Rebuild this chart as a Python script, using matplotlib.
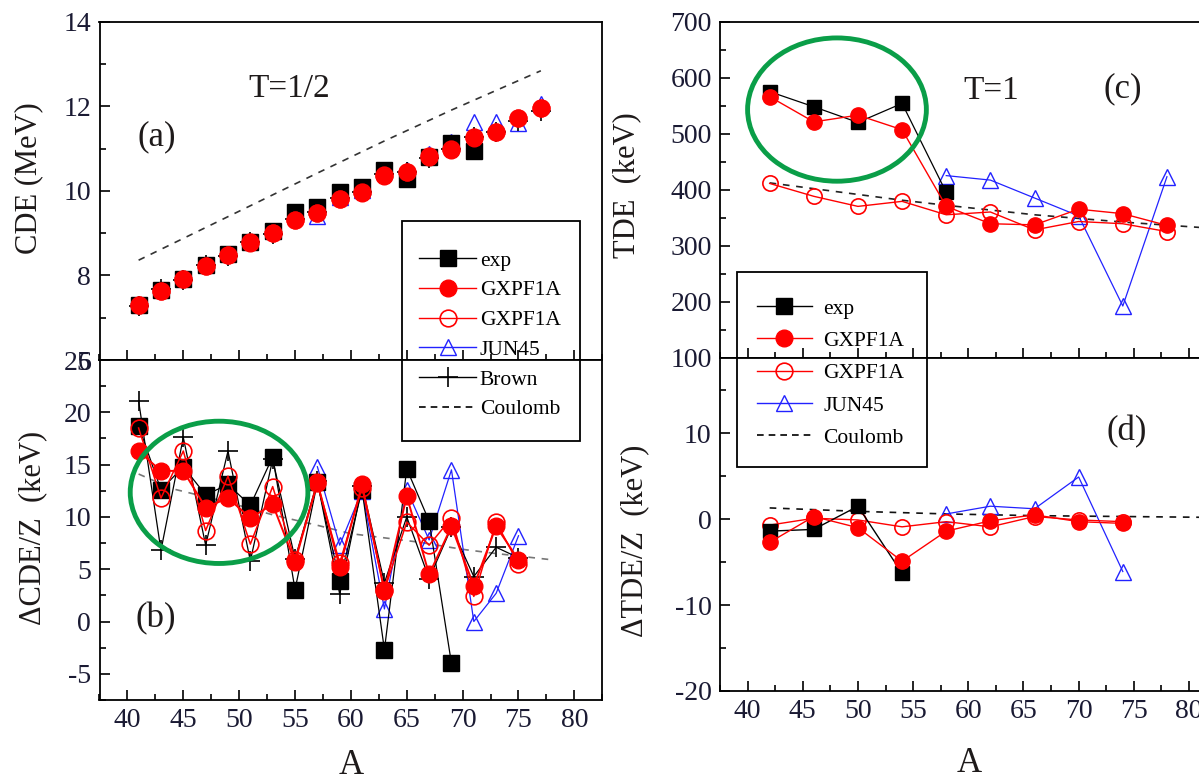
import matplotlib
matplotlib.use('Agg')
import matplotlib.pyplot as plt
from matplotlib.patches import Ellipse, Rectangle
from matplotlib.lines import Line2D
from matplotlib.ticker import MultipleLocator

plt.rcParams['font.family'] = ['Liberation Serif', 'DejaVu Serif']
plt.rcParams['axes.unicode_minus'] = False

# ---------------- data ----------------
# panel (a) CDE (MeV), T=1/2
a_A = [41, 43, 45, 47, 49, 51, 53, 55, 57, 59, 61, 63, 65, 67, 69, 71, 73, 75, 77]
a_exp_A = [41, 43, 45, 47, 49, 51, 53, 55, 57, 59, 61, 63, 65, 67, 69, 71]
a_exp = [7.30, 7.65, 7.92, 8.25, 8.50, 8.80, 9.05, 9.50, 9.61, 9.98, 10.08, 10.49, 10.28, 10.80, 11.14, 10.95]
a_gx = [7.30, 7.62, 7.91, 8.22, 8.48, 8.77, 9.00, 9.31, 9.47, 9.80, 9.96, 10.36, 10.44, 10.81, 10.97, 11.26, 11.38, 11.72, 11.95]
a_gx_open = [7.31, 7.63, 7.92, 8.23, 8.49, 8.78, 9.01, 9.32, 9.48, 9.81, 9.97, 10.37, 10.45, 10.82, 10.98, 11.27, 11.39, 11.73, 11.96]
a_jun_A = [57, 59, 61, 63, 65, 67, 69, 71, 73, 75, 77]
a_jun = [9.40, 9.85, 10.02, 10.48, 10.50, 10.86, 11.15, 11.62, 11.62, 11.60, 12.05]
a_brown = [7.28, 7.68, 7.88, 8.25, 8.47, 8.80, 8.98, 9.33, 9.50, 9.82, 9.98, 10.40, 10.45, 10.78, 11.00, 11.28, 11.38, 11.65, 11.88]
a_coul_A = [41, 49, 57, 63, 69, 77]
a_coul = [8.36, 9.39, 10.42, 11.18, 11.91, 12.84]

# panel (b) dCDE/Z (keV)
b_exp_A = [41, 43, 45, 47, 49, 51, 53, 55, 57, 59, 61, 63, 65, 67, 69]
b_exp = [18.7, 12.6, 14.8, 12.1, 13.1, 11.1, 15.75, 3.06, 13.3, 3.9, 12.6, -2.7, 14.6, 9.6, -4.0]
b_A = [41, 43, 45, 47, 49, 51, 53, 55, 57, 59, 61, 63, 65, 67, 69, 71, 73, 75]
b_gx = [16.3, 14.4, 14.4, 10.9, 11.8, 9.9, 11.2, 5.7, 13.3, 5.2, 13.1, 2.9, 12.0, 4.5, 9.1, 3.4, 9.1, 5.9]
b_gx_open = [18.5, 11.8, 16.3, 8.7, 13.9, 7.4, 12.9, 5.9, 13.2, 5.6, 12.8, 3.0, 9.5, 7.3, 9.9, 2.4, 9.5, 5.5]
b_jun_A = [57, 59, 61, 63, 65, 67, 69, 71, 73, 75]
b_jun = [14.8, 7.3, 12.5, 1.2, 12.6, 7.8, 14.5, 0.0, 2.7, 8.2]
b_brown = [21.1, 6.8, 17.6, 7.3, 16.3, 5.8, 15.5, 6.0, 13.4, 2.6, 13.0, 3.7, 10.0, 4.1, 9.0, 4.3, 7.1, 6.1]
b_coul_A = [41, 44, 49, 53, 57, 60, 63, 66, 70, 73, 78]
b_coul = [14.1, 12.7, 11.4, 10.2, 9.2, 8.4, 8.0, 7.6, 6.9, 6.5, 5.9]

# panel (c) TDE (keV), T=1
c_A = [42, 46, 50, 54, 58, 62, 66, 70, 74, 78]
c_exp_A = [42, 46, 50, 54, 58]
c_exp = [575, 548, 520, 554, 395]
c_gx = [566, 521, 533, 507, 370, 339, 337, 365, 357, 336]
c_gx_open = [411, 388, 370, 379, 355, 360, 328, 343, 339, 325]
c_jun_A = [58, 62, 66, 70, 74, 78]
c_jun = [425, 417, 385, 353, 192, 423]
c_coul_A = [42, 54, 58, 66, 74, 82]
c_coul = [412, 381, 372, 355, 342, 331]

# panel (d) dTDE/Z (keV)
d_A = [42, 46, 50, 54, 58, 62, 66, 70, 74]
d_exp_A = [42, 46, 50, 54]
d_exp = [-1.4, -1.2, 1.5, -6.3]
d_gx = [-2.7, 0.3, -1.0, -4.9, -1.4, -0.2, 0.5, -0.3, -0.5]
d_gx_open = [-0.7, 0.1, -0.1, -0.9, -0.3, -0.9, 0.3, -0.1, -0.3]
d_jun_A = [58, 62, 66, 70, 74]
d_jun = [0.6, 1.5, 1.2, 4.9, -6.1]
d_coul_A = [42, 50, 58, 66, 74, 82]
d_coul = [1.3, 0.9, 0.6, 0.4, 0.3, 0.2]

legend_left = ['exp', 'GXPF1A', 'GXPF1A', 'JUN45', 'Brown', 'Coulomb']
legend_right = ['exp', 'GXPF1A', 'GXPF1A', 'JUN45', 'Coulomb']

# ---------------- figure ----------------
W, H = 1199, 779
fig = plt.figure(figsize=(W / 100, H / 100), dpi=100)


def rect(l, r, t, b):
    return [l / W, 1 - b / H, (r - l) / W, (b - t) / H]


def fpos(x, y):
    return (x / W, 1 - y / H)


ax_a = fig.add_axes(rect(99.5, 602.3, 21.7, 360))
ax_b = fig.add_axes(rect(99.5, 602.3, 360, 700))
ax_c = fig.add_axes(rect(720, 1216.6, 21.7, 357.5))
ax_d = fig.add_axes(rect(720, 1216.6, 357.5, 691))

TICKC = '#1a1a33'
for ax in (ax_a, ax_b, ax_c, ax_d):
    for s in ax.spines.values():
        s.set_linewidth(1.3)
    ax.set_xlim(37.5, 82.5)
    ax.xaxis.set_major_locator(MultipleLocator(5))
    ax.xaxis.set_minor_locator(MultipleLocator(2.5))
    ax.tick_params(which='both', direction='in', top=False, right=False,
                   width=1.2, labelsize=20, labelcolor=TICKC, pad=6)
    ax.tick_params(which='major', length=7)
    ax.tick_params(which='minor', length=4.5)

ax_a.tick_params(axis='x', labelbottom=False)
ax_c.tick_params(axis='x', labelbottom=False)

ax_a.set_ylim(6, 14)
ax_a.yaxis.set_major_locator(MultipleLocator(2))
ax_a.yaxis.set_minor_locator(MultipleLocator(1))
ax_b.set_ylim(-7.5, 25)
ax_b.yaxis.set_major_locator(MultipleLocator(5))
ax_b.yaxis.set_minor_locator(MultipleLocator(2.5))
ax_c.set_ylim(100, 700)
ax_c.yaxis.set_major_locator(MultipleLocator(100))
ax_c.yaxis.set_minor_locator(MultipleLocator(50))
ax_d.set_ylim(-20, 18.8)
ax_d.yaxis.set_major_locator(MultipleLocator(10))
ax_d.yaxis.set_minor_locator(MultipleLocator(5))

RED = '#ff0000'
BLUE = '#2222ff'
ms_sq, ms_c, ms_t, ms_p = 11, 12, 12, 14

# ---- panel (a) ----
ax_a.plot(a_coul_A, a_coul, ls=(0, (4, 4)), color='#333333', lw=1.2)
ax_a.plot(a_jun_A, a_jun, ls='none', marker='^', ms=ms_t, mfc='none', mec=BLUE, mew=1.0)
ax_a.plot(a_exp_A, a_exp, ls='none', marker='s', ms=ms_sq, color='black')
ax_a.plot(a_A, a_brown, ls='none', marker='+', ms=ms_p, mew=1.2, color='black')
ax_a.plot(a_A, a_gx_open, ls='none', marker='o', ms=ms_c, mfc='none', mec=RED, mew=1.2)
ax_a.plot(a_A, a_gx, ls='none', marker='o', ms=ms_c, color=RED)

# ---- panel (b) ----
ax_b.plot(b_coul_A, b_coul, ls=(0, (4, 4)), color='#777777', lw=1.2)
ax_b.plot(b_jun_A, b_jun, '-', lw=0.9, color=BLUE, marker='^', ms=ms_t, mfc='none', mec=BLUE, mew=1.0)
ax_b.plot(b_exp_A, b_exp, '-', lw=0.9, color='black', marker='s', ms=ms_sq)
ax_b.plot(b_A, b_brown, '-', lw=0.9, color='black', marker='+', ms=ms_p, mew=1.2)
ax_b.plot(b_A, b_gx_open, '-', lw=1.1, color=RED, marker='o', ms=ms_c, mfc='none', mec=RED, mew=1.2)
ax_b.plot(b_A, b_gx, '-', lw=1.4, color=RED, marker='o', ms=ms_c)

# ---- panel (c) ----
ax_c.plot(c_coul_A, c_coul, ls=(0, (4, 4)), color='#222222', lw=1.2)
ax_c.plot(c_jun_A, c_jun, '-', lw=0.9, color=BLUE, marker='^', ms=ms_t, mfc='none', mec=BLUE, mew=1.0)
ax_c.plot(c_A, c_gx_open, '-', lw=1.0, color=RED, marker='o', ms=11, mfc='none', mec=RED, mew=1.2)
ax_c.plot(c_exp_A, c_exp, '-', lw=0.9, color='black', marker='s', ms=10.5)
ax_c.plot(c_A, c_gx, '-', lw=1.0, color=RED, marker='o', ms=11)

# ---- panel (d) ----
ax_d.plot(d_coul_A, d_coul, ls=(0, (4, 4)), color='#111111', lw=1.2)
ax_d.plot(d_jun_A, d_jun, '-', lw=0.9, color=BLUE, marker='^', ms=ms_t, mfc='none', mec=BLUE, mew=1.0)
ax_d.plot(d_A, d_gx_open, '-', lw=1.0, color=RED, marker='o', ms=11, mfc='none', mec=RED, mew=1.2)
ax_d.plot(d_exp_A, d_exp, '-', lw=1.0, color='black', marker='s', ms=10.5)
ax_d.plot(d_A, d_gx, '-', lw=1.0, color=RED, marker='o', ms=11)

# ---- green ellipses ----
GREEN = '#0a9e48'
ax_b.add_patch(Ellipse((48.2, 12.35), 15.9, 13.6, fill=False, ec=GREEN, lw=3.5, zorder=10))
ax_c.add_patch(Ellipse((48.1, 543), 16.2, 256, fill=False, ec=GREEN, lw=3.5, zorder=10))

# ---- axis labels ----
LABC = '#1e1a1a'
ax_a.set_ylabel('CDE (MeV)', fontsize=22, color=LABC)
ax_a.yaxis.set_label_coords(-0.141, 0.539)
ax_b.set_ylabel('ΔCDE/Z  (keV)', fontsize=22, color=LABC)
ax_b.yaxis.set_label_coords(-0.133, 0.506)
ax_c.set_ylabel('TDE  (keV)', fontsize=22, color=LABC)
ax_c.yaxis.set_label_coords(-0.188, 0.514)
ax_d.set_ylabel('ΔTDE/Z  (keV)', fontsize=22, color=LABC)
ax_d.yaxis.set_label_coords(-0.172, 0.450)
ax_b.set_xlabel('A', fontsize=25, color=LABC)
ax_b.xaxis.set_label_coords(0.50, -0.192)
ax_d.set_xlabel('A', fontsize=25, color=LABC)
ax_d.xaxis.set_label_coords(0.502, -0.218)
for ax in (ax_a, ax_b, ax_c, ax_d):
    ax.yaxis.label.set_va('center')
    ax.xaxis.label.set_va('center')

# ---- panel annotations ----
TXT = '#1e1a1a'
fig.text(*fpos(289, 89), 'T=1/2', fontsize=24, ha='center', va='center', color=TXT)
fig.text(*fpos(157, 137), '(a)', fontsize=25, ha='center', va='center', color=TXT)
fig.text(*fpos(156, 619), '(b)', fontsize=25, ha='center', va='center', color=TXT)
fig.text(*fpos(991, 91), 'T=1', fontsize=24, ha='center', va='center', color=TXT)
fig.text(*fpos(1123, 89), '(c)', fontsize=25, ha='center', va='center', color=TXT)
fig.text(*fpos(1127, 432), '(d)', fontsize=25, ha='center', va='center', color=TXT)

# ---- legends ----
h_exp = Line2D([], [], color='black', lw=1.0, marker='s', ms=11)
h_gx = Line2D([], [], color=RED, lw=1.0, marker='o', ms=12)
h_gxo = Line2D([], [], color=RED, lw=1.0, marker='o', ms=12, mfc='none', mec=RED, mew=1.2)
h_jun = Line2D([], [], color=BLUE, lw=1.0, marker='^', ms=12, mfc='none', mec=BLUE, mew=1.0)
h_br = Line2D([], [], color='black', lw=1.0, marker='+', ms=14, mew=1.2)
h_co = Line2D([], [], color='black', lw=1.2, ls=(0, (4, 3)))

leg1 = fig.legend([h_exp, h_gx, h_gxo, h_jun, h_br, h_co], legend_left,
                  loc='upper left', bbox_to_anchor=fpos(419, 250.5), borderaxespad=0,
                  fontsize=15.5, handlelength=2.67, handletextpad=0.16,
                  labelspacing=0.45, borderpad=0, frameon=False)
fig.add_artist(Rectangle(fpos(402, 441), (580 - 402) / W, (441 - 221) / H,
                         transform=fig.transFigure, fill=False, ec='black', lw=1.3, zorder=6))

leg2 = fig.legend([h_exp, h_gx, h_gxo, h_jun, h_co], legend_right,
                  loc='upper left', bbox_to_anchor=fpos(757, 298.5), borderaxespad=0,
                  fontsize=15.5, handlelength=2.54, handletextpad=0.53,
                  labelspacing=0.57, borderpad=0, frameon=False)
fig.add_artist(Rectangle(fpos(737, 467.3), (927.2 - 737) / W, (467.3 - 271.7) / H,
                         transform=fig.transFigure, fill=False, ec='black', lw=1.3, zorder=6))

fig.savefig('out.png', dpi=100)
